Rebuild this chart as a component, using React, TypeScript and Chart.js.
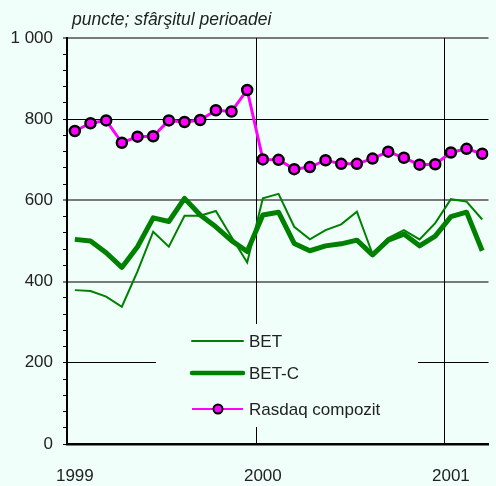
import React, { useEffect, useRef } from "react";
import { Chart, registerables } from "chart.js";

Chart.register(...registerables);

const yearLabels = ["1999", "2000", "2001"];
const monthsPerYear = 12;

const betValues = [379, 377, 363, 338, 425, 523, 486, 562, 562, 574, 510, 447,
  605, 616, 535, 504, 527, 541, 572, 468, 507, 527, 504, 544,
  603, 597, 553];
const betCValues = [504, 500, 471, 435, 486, 557, 548, 605, 564, 535, 501, 474,
  564, 571, 494, 476, 488, 493, 502, 466, 502, 517, 488, 512,
  560, 571, 476];
const rasdaqValues = [771, 790, 797, 742, 757, 758, 797, 793, 798, 822, 819, 872,
  701, 700, 677, 682, 699, 690, 690, 703, 720, 705, 688, 689,
  718, 727, 715];

const yMajorTicks = [0, 200, 400, 600, 800, 1000];
const yMinorStep = 40;

const seriesNames = ["BET", "BET-C", "Rasdaq compozit"];
const titleText = "puncte; sfârşitul perioadei";

const BG = "#F0FFFA";
const FONT = '"Liberation Sans", Arial, sans-serif';
const GREEN = "#008000";
const MAGENTA = "#FF00FF";

const fmt = (v: number) => (v >= 1000 ? String(v).replace(/(\d)(\d{3})$/, "$1 $2") : String(v));

export default function App() {
  const ref = useRef<HTMLCanvasElement | null>(null);

  useEffect(() => {
    if (!ref.current) return;
    const toXY = (arr: number[]) => arr.map((v, i) => ({ x: i, y: v }));

    const decor = {
      id: "decor",
      beforeDraw(chart: any) {
        const { ctx } = chart;
        ctx.save();
        ctx.fillStyle = BG;
        ctx.fillRect(0, 0, chart.width, chart.height);
        ctx.fillStyle = "#222";
        ctx.font = `italic 17.5px ${FONT}`;
        ctx.textBaseline = "alphabetic";
        ctx.textAlign = "left";
        ctx.fillText(titleText, 72, 25);
        ctx.restore();
      },
      beforeDatasetsDraw(chart: any) {
        const { ctx, chartArea } = chart;
        const xs = chart.scales.x;
        ctx.save();
        ctx.strokeStyle = "#000";
        ctx.lineWidth = 1;
        for (let y = 1; y < yearLabels.length; y++) {
          const px = Math.round(xs.getPixelForValue(y * monthsPerYear - 0.5)) + 1.5;
          ctx.beginPath();
          ctx.moveTo(px, chartArea.top);
          ctx.lineTo(px, chartArea.bottom);
          ctx.stroke();
        }
        // legend box
        const bx = 156, by = 324, bw = 262, bh = 103;
        ctx.fillStyle = BG;
        ctx.fillRect(bx, by, bw, bh);
        const rows = [341, 373, 409];
        const x0 = 192, x1 = 243, tx = 249;
        ctx.lineCap = "round";
        ctx.strokeStyle = GREEN;
        ctx.lineWidth = 2;
        ctx.beginPath(); ctx.moveTo(x0, rows[0]); ctx.lineTo(x1, rows[0]); ctx.stroke();
        ctx.lineWidth = 4.5;
        ctx.beginPath(); ctx.moveTo(x0, rows[1]); ctx.lineTo(x1, rows[1]); ctx.stroke();
        ctx.strokeStyle = MAGENTA;
        ctx.lineWidth = 2;
        ctx.lineCap = "butt";
        ctx.beginPath(); ctx.moveTo(x0, rows[2]); ctx.lineTo(x1, rows[2]); ctx.stroke();
        ctx.beginPath();
        ctx.arc(218, rows[2], 4.5, 0, Math.PI * 2);
        ctx.fillStyle = MAGENTA;
        ctx.fill();
        ctx.strokeStyle = "#000";
        ctx.lineWidth = 2;
        ctx.stroke();
        ctx.fillStyle = "#222";
        ctx.font = `17px ${FONT}`;
        ctx.textBaseline = "middle";
        ctx.textAlign = "left";
        seriesNames.forEach((n, i) => ctx.fillText(n, tx, rows[i] + 1));
        ctx.restore();
      },
    };

    const yTickValues: number[] = [];
    for (let v = 0; v <= yMajorTicks[yMajorTicks.length - 1]; v += yMinorStep) yTickValues.push(v);

    const chart = new Chart(ref.current, {
      type: "line",
      data: {
        datasets: [
          {
            label: seriesNames[2],
            data: toXY(rasdaqValues),
            borderColor: MAGENTA,
            borderWidth: 3,
            pointRadius: 5,
            pointBackgroundColor: MAGENTA,
            pointBorderColor: "#000",
            pointBorderWidth: 2.5,
            tension: 0,
          },
          {
            label: seriesNames[0],
            data: toXY(betValues),
            borderColor: GREEN,
            borderWidth: 2,
            pointRadius: 0,
            tension: 0,
          },
          {
            label: seriesNames[1],
            data: toXY(betCValues),
            borderColor: GREEN,
            borderWidth: 5,
            pointRadius: 0,
            tension: 0,
            borderJoinStyle: "round",
          },
        ],
      },
      options: {
        responsive: false,
        animation: false,
        layout: { padding: { top: 38, right: 0, left: 0, bottom: 0 } },
        plugins: { legend: { display: false }, tooltip: { enabled: false }, title: { display: false } },
        scales: {
          x: {
            type: "linear",
            min: -0.5,
            max: 26.4,
            afterBuildTicks: (s: any) => {
              s.ticks = yearLabels.map((_, i) => ({ value: i * monthsPerYear }));
            },
            afterFit: (s: any) => { s.height = 42; },
            ticks: {
              autoSkip: false,
              maxRotation: 0,
              padding: 22,
              color: "#222",
              font: { family: FONT, size: 17 },
              callback: (v: any) => yearLabels[Math.round(Number(v) / monthsPerYear)] ?? "",
            },
            grid: { display: false, drawTicks: false },
            border: { display: true, color: "#000", width: 2.5 },
          },
          y: {
            min: 0,
            max: 1000,
            afterBuildTicks: (s: any) => {
              s.ticks = yTickValues.map((v) => ({ value: v }));
            },
            afterFit: (s: any) => { s.width = 67; },
            ticks: {
              autoSkip: false,
              padding: 10,
              color: "#222",
              font: { family: FONT, size: 17 },
              callback: (v: any) => (yMajorTicks.includes(Number(v)) ? fmt(Number(v)) : ""),
            },
            grid: {
              color: (c: any) => {
                const v = c.tick?.value;
                if (v === 0 || !yMajorTicks.includes(v)) return "rgba(0,0,0,0)";
                return v === 400 || v === 600 || v === 1000 ? "#7a7a7a" : "#000";
              },
              lineWidth: (c: any) => {
                const v = c.tick?.value;
                return v === 400 || v === 600 || v === 1000 ? 2 : 1;
              },
              tickColor: "#000",
              tickLength: 4,
              tickWidth: 1,
            },
            border: { display: true, color: "#000", width: 2 },
          },
        },
      },
      plugins: [decor],
    });
    return () => chart.destroy();
  }, []);

  return (
    <div style={{ position: "absolute", left: 0, top: 0, width: 496, height: 486, background: BG }}>
      <canvas ref={ref} width={496} height={486} style={{ display: "block" }} />
    </div>
  );
}
